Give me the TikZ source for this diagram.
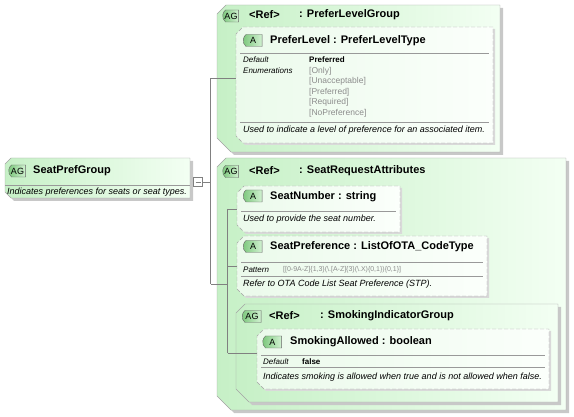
\documentclass[tikz,border=0pt]{standalone}
\usepackage{fontspec}
\setmainfont{Liberation Sans}
\usepackage{xcolor}
\usepackage{tikz}
\usetikzlibrary{positioning,fit,calc,shadows,shapes.misc}
\definecolor{grpleft}{HTML}{C6F0C6}
\definecolor{grpright}{HTML}{F3FFF3}
\definecolor{attleft}{HTML}{EBFAEB}
\definecolor{attright}{HTML}{FBFFFB}
\definecolor{badgeleft}{HTML}{7CC77C}
\definecolor{badgeright}{HTML}{D2F2D2}
\definecolor{edgegray}{HTML}{A4A4A4}
\definecolor{shadegray}{HTML}{C8C8C8}
\definecolor{linegray}{HTML}{808080}
\definecolor{enumgray}{HTML}{8C8C8C}

\tikzset{
  frame/.style={inner sep=0pt, outer sep=0pt},
  grpfill/.style={draw=edgegray, left color=grpleft, right color=grpright,
    drop shadow={shadow xshift=3pt, shadow yshift=-3pt, fill=shadegray, opacity=1}},
  attfill/.style={draw=edgegray, dash pattern=on 4pt off 2pt, left color=attleft, right color=attright,
    drop shadow={shadow xshift=2pt, shadow yshift=-2pt, fill=shadegray!70, opacity=1}},
  badge/.style={rounded rectangle, rounded rectangle right arc=none, rounded rectangle arc length=100,
    draw=black!60, left color=badgeleft, right color=badgeright,
    inner xsep=1pt, inner ysep=0pt, minimum height=12pt, font=\fontsize{9}{9}\selectfont},
  hdr/.style={anchor=west, inner sep=0pt, font=\fontsize{11}{13}\selectfont\bfseries},
  desc/.style={anchor=west, inner sep=0pt, font=\fontsize{9}{11}\selectfont\itshape},
  lbl/.style={anchor=west, inner sep=0pt, font=\fontsize{8}{10}\selectfont\itshape},
  val/.style={anchor=west, inner sep=0pt, font=\fontsize{8}{10}\selectfont\bfseries},
  enum/.style={anchor=west, inner sep=0pt, text=enumgray, font=\fontsize{8.5}{10}\selectfont},
  sepline/.style={draw=black!40},
  conn/.style={draw=linegray, line width=0.6pt},
  tog/.style={draw=linegray, fill=white, minimum size=9pt, inner sep=0pt,
    path picture={\draw[linegray] ([xshift=-2.5pt]path picture bounding box.center)
      -- ([xshift=2.5pt]path picture bounding box.center);}}
}

% chamfered outline round a fitted node
\newcommand{\chamfer}[4]{%
  \path[#1] ([xshift=#3pt]#2.north west) -- (#2.north east) -- (#2.south east)
    -- ([xshift=#4pt]#2.south west) -- ([yshift=#4pt]#2.south west)
    -- ([yshift=-#3pt]#2.north west) -- cycle;}

\begin{document}
\begin{tikzpicture}[x=1pt,y=-1pt]
  \useasboundingbox (0,0) rectangle (574,417);

  % frames
  \node[frame, fit={(5,158) (190,198)}] (root) {};
  \node[frame, fit={(217,5) (500,152)}] (prefgrp) {};
  \node[frame, fit={(236,27) (493,143)}] (preflevel) {};
  \node[frame, fit={(217,158) (566,410)}] (reqgrp) {};
  \node[frame, fit={(237,186) (400,232)}] (seatnum) {};
  \node[frame, fit={(237,236) (487,296)}] (seatpref) {};
  \node[frame, fit={(236,304) (558,402)}] (smokegrp) {};
  \node[frame, fit={(257,329) (549,389)}] (smokeallow) {};

  \chamfer{grpfill}{root}{6}{6}
  \chamfer{grpfill}{prefgrp}{9}{14}
  \chamfer{attfill}{preflevel}{7}{7}
  \chamfer{grpfill}{reqgrp}{9}{14}
  \chamfer{attfill}{seatnum}{7}{7}
  \chamfer{attfill}{seatpref}{7}{7}
  \chamfer{grpfill}{smokegrp}{9}{13}
  \chamfer{attfill}{smokeallow}{7}{7}

  \node[tog] (tog) at (198,182) {};

  % connectors
  \coordinate (jn) at ($(tog.east)+(8,0)$);
  \draw[conn] (tog.east) -- (jn);
  \draw[conn] (jn |- prefgrp.west) -- (jn |- reqgrp.west);
  \draw[conn] (jn |- prefgrp.west) -- (prefgrp.west -| preflevel.west);
  \draw[conn] (jn |- reqgrp.west) -- ++(17,0) coordinate (jn2);
  \draw[conn] (jn2 |- seatnum.west) -- (jn2 |- smokegrp.west);
  \draw[conn] (jn2 |- seatnum.west) -- (seatnum.west);
  \draw[conn] (jn2 |- seatpref.west) -- (seatpref.west);
  \draw[conn] (jn2 |- smokegrp.west) -- (smokegrp.west -| smokeallow.west);

  % SeatPrefGroup
  \node[badge, minimum width=19pt] (rootag) at (17.5,171) {AG};
  \node[hdr] (roottitle) at (33,171) {SeatPrefGroup};
  \draw[sepline] (5,185) -- (190,185);
  \node[desc] (rootdesc) at (7,192) {Indicates preferences for seats or seat types.};

  % PreferLevelGroup
  \node[badge, minimum width=18pt] (prefag) at (231,16) {AG};
  \node[hdr] (prefref) at (249,15) {<Ref>};
  \node[hdr] (prefname) at (299,15) {: PreferLevelGroup};
  \node[badge, minimum width=21pt] (plbadge) at (253,40.5) {A};
  \node[hdr] (pltitle) at (270,40.5) {PreferLevel : PreferLevelType};
  \draw[sepline] (240,53) -- (489,53);
  \node[lbl] (pldeflbl) at (243,60) {Default};
  \node[val] (pldef) at (309,60) {Preferred};
  \node[lbl] (plenumlbl) at (243,71) {Enumerations};
  \node[enum] (plenum1) at (309,71) {[Only]};
  \node[enum] (plenum2) at (309,81.5) {[Unacceptable]};
  \node[enum] (plenum3) at (309,92) {[Preferred]};
  \node[enum] (plenum4) at (309,102.5) {[Required]};
  \node[enum] (plenum5) at (309,113) {[NoPreference]};
  \draw[sepline] (240,122) -- (489,122);
  \node[desc] (pldesc) at (243,130) {Used to indicate a level of preference for an associated item.};

  % SeatRequestAttributes
  \node[badge, minimum width=18pt] (reqag) at (231,171.5) {AG};
  \node[hdr] (reqref) at (249,171) {<Ref>};
  \node[hdr] (reqname) at (299,171) {: SeatRequestAttributes};

  \node[badge, minimum width=21pt] (snbadge) at (253,196) {A};
  \node[hdr] (sntitle) at (270,196.5) {SeatNumber : string};
  \draw[sepline] (241,211) -- (396,211);
  \node[desc] (sndesc) at (243,219) {Used to provide the seat number.};

  \node[badge, minimum width=21pt] (spbadge) at (253,246.5) {A};
  \node[hdr] (sptitle) at (270,247) {SeatPreference : ListOfOTA\_CodeType};
  \draw[sepline] (241,262) -- (483,262);
  \node[lbl] (sppatlbl) at (243,270) {Pattern};
  \node[enum, font=\fontsize{7}{9}\selectfont] (sppat) at (283,269.5)
    {[[0-9A-Z]\{1,3\}(\textbackslash.[A-Z]\{3\}(\textbackslash.X)\{0,1\})\{0,1\}]};
  \draw[sepline] (241,276) -- (483,276);
  \node[desc] (spdesc) at (243,284) {Refer to OTA Code List Seat Preference (STP).};

  % SmokingIndicatorGroup
  \node[badge, minimum width=21pt] (smokeag) at (252,316.5) {AG};
  \node[hdr] (smokeref) at (269,315.5) {<Ref>};
  \node[hdr] (smokename) at (320,315.5) {: SmokingIndicatorGroup};
  \node[badge, minimum width=21pt] (sabadge) at (272.5,342) {A};
  \node[hdr] (satitle) at (290,341.5) {SmokingAllowed : boolean};
  \draw[sepline] (261,355) -- (545,355);
  \node[lbl] (sadeflbl) at (263,362) {Default};
  \node[val] (sadef) at (302,362) {false};
  \draw[sepline] (261,367) -- (545,367);
  \node[desc] (sadesc) at (263,377) {Indicates smoking is allowed when true and is not allowed when false.};
\end{tikzpicture}
\end{document}
